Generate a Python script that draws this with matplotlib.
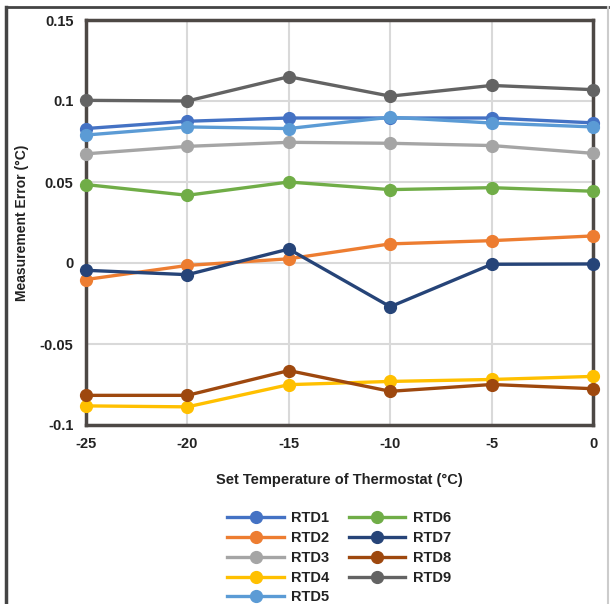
import matplotlib
matplotlib.use('Agg')
import matplotlib.pyplot as plt
from matplotlib.lines import Line2D

plt.rcParams['font.family'] = ['Liberation Sans', 'DejaVu Sans']

# temperaturas del termostato
temps = [-25, -20, -15, -10, -5, 0]

rtd1 = [0.083, 0.0875, 0.0895, 0.0895, 0.0895, 0.0865]
rtd2 = [-0.0102, -0.0015, 0.0026, 0.0118, 0.0138, 0.0167]
rtd3 = [0.0674, 0.072, 0.0745, 0.0739, 0.0725, 0.0677]
rtd4 = [-0.0882, -0.0888, -0.0751, -0.0731, -0.0719, -0.0700]
rtd5 = [0.079, 0.084, 0.083, 0.090, 0.0864, 0.084]
rtd6 = [0.0484, 0.0418, 0.050, 0.0453, 0.0465, 0.0443]
rtd7 = [-0.0045, -0.0072, 0.0086, -0.027, -0.0008, -0.0006]
rtd8 = [-0.0817, -0.0817, -0.0664, -0.0792, -0.075, -0.0776]
rtd9 = [0.1004, 0.100, 0.115, 0.103, 0.1096, 0.107]

nombres = ['RTD1', 'RTD2', 'RTD3', 'RTD4', 'RTD5', 'RTD6', 'RTD7', 'RTD8', 'RTD9']
colores = ['#4472C4', '#ED7D31', '#A5A5A5', '#FFC000', '#5B9BD5',
           '#70AD47', '#264478', '#9E480E', '#636363']

y_ticks = [-0.1, -0.05, 0, 0.05, 0.1, 0.15]
y_labels = ['-0.1', '-0.05', '0', '0.05', '0.1', '0.15']
x_labels = ['-25', '-20', '-15', '-10', '-5', '0']

fig = plt.figure(figsize=(6.1, 6.04), dpi=100)
ax = fig.add_axes([86/610, 1 - 425/604, (593 - 86)/610, (425 - 20)/604])

series = [rtd1, rtd2, rtd3, rtd4, rtd5, rtd6, rtd7, rtd8, rtd9]
for valores, nombre, color in zip(series, nombres, colores):
    ax.plot(temps, valores, color=color, lw=2.4, marker='o', markersize=8.5,
            label=nombre, clip_on=False, zorder=3)

ax.set_xlim(-25, 0)
ax.set_ylim(-0.1, 0.15)
ax.set_xticks(temps)
ax.set_xticklabels(x_labels)
ax.set_yticks(y_ticks)
ax.set_yticklabels(y_labels)
ax.grid(True, color='#D9D9D9', lw=1.5, zorder=0)
ax.tick_params(length=0, labelsize=10.5, pad=9)
for lab in ax.get_xticklabels() + ax.get_yticklabels():
    lab.set_fontweight('bold')
    lab.set_color('#222222')
for s in ax.spines.values():
    s.set_color('#4D4845')
    s.set_linewidth(2.5)

ax.set_xlabel('Set Temperature of Thermostat (°C)', fontsize=10.5, fontweight='bold',
              color='#222222')
ax.xaxis.set_label_coords(0.5, -48/405)
ax.set_ylabel('Measurement Error (°C)', fontsize=10, fontweight='bold',
              color='#222222')
ax.yaxis.set_label_coords(-57/507, 0.5)

# leyenda en dos columnas, cortada abajo como en el original
handles, labels = ax.get_legend_handles_labels()
leg = fig.legend(handles, labels, ncol=2, loc='upper left',
                 bbox_to_anchor=(214/610, 1 - 498/604), frameon=False,
                 prop={'weight': 'bold', 'size': 10.5}, handlelength=3.9,
                 handletextpad=0.5, columnspacing=1.3, labelspacing=0.4)
for t in leg.get_texts():
    t.set_color('#222222')

# marco exterior
fig.add_artist(Line2D([6/610, 6/610], [0, 1 - 7/604], color='#444444', lw=2.5))
fig.add_artist(Line2D([6/610, 608/610], [1 - 7/604, 1 - 7/604], color='#444444', lw=2))
fig.add_artist(Line2D([608/610, 608/610], [0, 1 - 7/604], color='#CCCCCC', lw=1.5))

fig.savefig('out.png', dpi=100)
